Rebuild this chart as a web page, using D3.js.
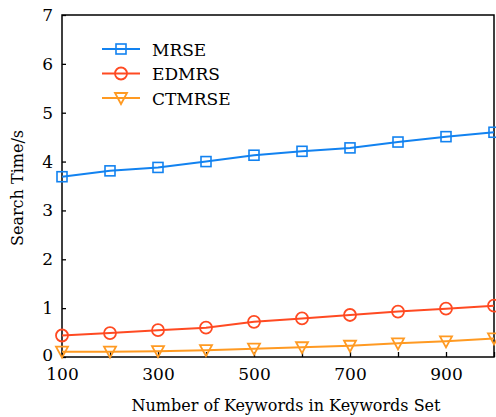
<!DOCTYPE html>
<html>
<head>
<meta charset="utf-8">
<script src="https://cdn.jsdelivr.net/npm/d3@7"></script>
<style>
  body { margin: 0; background: #fff; }
  svg text { fill: #000; }
</style>
</head>
<body>
<svg id="chart" width="496" height="417"></svg>
<script>
// keyword counts on the x axis
var keywords = [100, 200, 300, 400, 500, 600, 700, 800, 900, 1000];
var xTickLabels = [100, 300, 500, 700, 900];
var yTicks = [0, 1, 2, 3, 4, 5, 6, 7];

// search time in seconds
var mrse = [3.69, 3.81, 3.88, 4.0, 4.13, 4.21, 4.28, 4.4, 4.51, 4.6];
var edmrs = [0.44, 0.49, 0.55, 0.6, 0.72, 0.79, 0.86, 0.93, 0.99, 1.05];
var ctmrse = [0.11, 0.11, 0.12, 0.14, 0.17, 0.2, 0.23, 0.28, 0.32, 0.38];

var series = [
  {name: "MRSE", values: mrse, color: "#1282f0", marker: "square"},
  {name: "EDMRS", values: edmrs, color: "#ff4a22", marker: "circle"},
  {name: "CTMRSE", values: ctmrse, color: "#ff9a22", marker: "triangle"}
];

// only serif face that resolves in the render sandbox
var serif = "DejaVu Serif";
var margin = {left: 62, right: 2, top: 15, bottom: 60};
var width = 496, height = 417;

var svg = d3.select("#chart").attr("font-family", serif);

var x = d3.scaleLinear().domain([100, 1000]).range([margin.left, width - margin.right]);
var y = d3.scaleLinear().domain([0, 7]).range([height - margin.bottom, margin.top]);

// frame
svg.append("rect")
  .attr("x", x(100)).attr("y", y(7))
  .attr("width", x(1000) - x(100)).attr("height", y(0) - y(7))
  .attr("fill", "none").attr("stroke", "#000").attr("stroke-width", 1.5);

// x axis, ticks pointing inward
var xAxis = svg.append("g")
  .attr("transform", "translate(0," + y(0) + ")")
  .call(d3.axisBottom(x).tickValues(keywords).tickSizeInner(-5).tickSizeOuter(0)
    .tickFormat(function(d){ return xTickLabels.indexOf(d) >= 0 ? d : ""; }));
xAxis.attr("font-family", serif).attr("font-size", 17);
xAxis.select(".domain").remove();
xAxis.selectAll(".tick line").attr("stroke-width", 1.3);
xAxis.selectAll(".tick text").attr("dy", "0.71em").attr("y", 11);

// y axis
var yAxis = svg.append("g")
  .attr("transform", "translate(" + x(100) + ",0)")
  .call(d3.axisLeft(y).tickValues(yTicks).tickSizeInner(-4).tickSizeOuter(0).tickFormat(d3.format("d")));
yAxis.attr("font-family", serif).attr("font-size", 17);
yAxis.select(".domain").remove();
yAxis.selectAll(".tick line").attr("stroke-width", 1.3);
yAxis.selectAll(".tick text").attr("x", -9);
yAxis.selectAll(".tick text").filter(function(d){ return d === 0; }).attr("dy", "0.2em");

// axis titles
svg.append("text")
  .attr("x", (x(100) + x(1000)) / 2 + 8).attr("y", 411)
  .attr("text-anchor", "middle").attr("font-size", 16)
  .text("Number of Keywords in Keywords Set");

svg.append("text")
  .attr("transform", "translate(23," + (y(3.5) + 2) + ") rotate(-90)")
  .attr("text-anchor", "middle").attr("font-size", 16)
  .text("Search Time/s");

function drawMarker(g, type, color) {
  if (type == "square") {
    g.append("rect").attr("x", -5).attr("y", -5).attr("width", 10).attr("height", 10)
      .attr("fill", "none").attr("stroke", color).attr("stroke-width", 1.6);
  } else if (type == "circle") {
    g.append("circle").attr("r", 6)
      .attr("fill", "none").attr("stroke", color).attr("stroke-width", 1.8);
  } else {
    g.append("path").attr("d", "M-6,-5L6,-5L0,6Z")
      .attr("fill", "none").attr("stroke", color).attr("stroke-width", 1.8);
  }
}

var line = d3.line()
  .x(function(d, i){ return x(keywords[i]); })
  .y(function(d){ return y(d); });

var plot = svg.append("g");
series.slice().reverse().forEach(function(s) {
  plot.append("path").datum(s.values)
    .attr("d", line).attr("fill", "none")
    .attr("stroke", s.color).attr("stroke-width", 2);
  s.values.forEach(function(v, i) {
    var g = plot.append("g").attr("transform", "translate(" + x(keywords[i]) + "," + y(v) + ")");
    drawMarker(g, s.marker, s.color);
  });
});

// legend
var legend = svg.append("g").attr("transform", "translate(102,49)");
series.forEach(function(s, i) {
  var row = legend.append("g").attr("transform", "translate(0," + (i * 24.5) + ")");
  row.append("line").attr("x1", 0).attr("x2", 38).attr("y1", 0).attr("y2", 0)
    .attr("stroke", s.color).attr("stroke-width", 2);
  var m = row.append("g").attr("transform", "translate(19,0)");
  drawMarker(m, s.marker, s.color);
  row.append("text").attr("x", 50).attr("y", 6.5).attr("font-size", 17).text(s.name);
});
</script>
</body>
</html>
